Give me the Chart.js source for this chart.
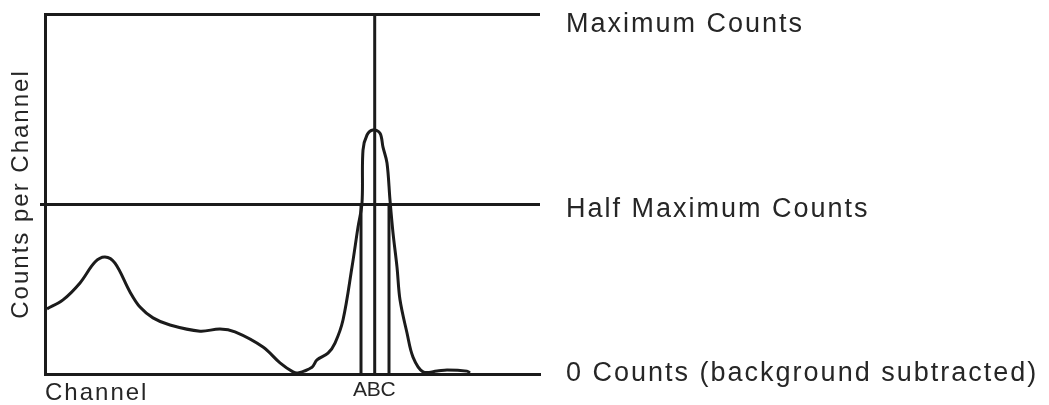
<!DOCTYPE html>
<html>
<head>
<meta charset="utf-8">
<script src="https://cdn.jsdelivr.net/npm/chart.js@4/dist/chart.umd.min.js"></script>
<style>
  html, body { margin: 0; padding: 0; background: #fff; }
  #wrap { width: 1049px; height: 405px; position: relative; }
</style>
</head>
<body>
<div id="wrap"><canvas id="fwhm-chart"></canvas></div>
<script>
// ================= DATA =================
// channel offsets and counts (counts: 0 = baseline, 100 = "maximum counts" line)
const CHANNELS = [2, 18, 35, 50, 60, 70, 85, 95, 108, 125, 155, 175, 190, 218, 235, 248, 253,
  267, 272, 283, 290, 298, 307, 313, 317, 318, 322, 328, 335, 338, 342, 345, 348, 352, 355,
  362, 368, 378, 392, 402, 422, 425];
const COUNTS = [18.1, 20.6, 25.3, 31.1, 32.5, 30.8, 22.8, 18.6, 15.6, 13.6, 11.9, 12.5, 11.7, 7.5, 3.1, 0.6, 0.3,
  1.9, 3.9, 5.8, 8.6, 15, 29.7, 40.8, 47.5, 62.2, 66.4, 67.8, 66.9, 63, 58.6, 48.3, 39.2, 29.7, 20.6,
  11.4, 4.7, 0.6, 0.8, 1.1, 0.8, 0.3];

// reference levels drawn across the plot
const LEVELS = [0, 47, 100];
const LEVEL_LABELS = ["0 Counts (background subtracted)", "Half Maximum Counts", "Maximum Counts"];

// marker lines A, B, C
const MARKER_LETTERS = ["A", "B", "C"];
const MARKER_CHANNELS = [316, 329.7, 344];
const MARKER_TOPS = [47, 100, 47];

const X_MAX = 495;
const Y_MAX = 100;
const INK = "#1b1b1b";
const TEXT = "#262626";
const FONT = "'Liberation Sans', Arial, Helvetica, sans-serif";
// how far (px) each level label sits below its line
const LABEL_DROP = [0, 5, 11];

// ================= DATASETS =================
const curve = {
  label: "Counts",
  data: CHANNELS.map((c, i) => ({ x: c, y: COUNTS[i] })),
  borderColor: INK,
  borderWidth: 3,
  pointRadius: 0,
  tension: 0.35,
  fill: false
};

const markers = MARKER_CHANNELS.map((c, i) => ({
  label: MARKER_LETTERS[i],
  data: [{ x: c, y: 0 }, { x: c, y: MARKER_TOPS[i] }],
  borderColor: INK,
  borderWidth: 3,
  pointRadius: 0,
  fill: false
}));

// canvas letter spacing (text in the picture is set wide)
const spacing = {
  id: "spacing",
  beforeDraw(chart) { chart.ctx.letterSpacing = "2px"; }
};

// no extra room for half-height end labels
function noPad(scale) {
  scale.paddingTop = 0;
  scale.paddingBottom = 0;
  scale.paddingLeft = 0;
  scale.paddingRight = 0;
}

// ================= CHART =================
new Chart(document.getElementById("fwhm-chart").getContext("2d"), {
  type: "line",
  data: { datasets: [curve, ...markers] },
  plugins: [spacing],
  options: {
    responsive: true,
    maintainAspectRatio: false,
    animation: false,
    layout: { padding: { top: 14, right: 0, bottom: 0, left: 0 } },
    plugins: {
      legend: { display: false },
      tooltip: { enabled: false }
    },
    scales: {
      x: {
        type: "linear",
        position: "bottom",
        min: 0,
        max: X_MAX,
        afterBuildTicks: (scale) => { scale.ticks = MARKER_CHANNELS.map(v => ({ value: v })); },
        afterFit: (scale) => { noPad(scale); scale.height = 405 - 374; },
        grid: { display: false },
        border: { display: true, color: INK, width: 3 },
        ticks: {
          autoSkip: false,
          maxRotation: 0,
          padding: -4,
          color: TEXT,
          font: { family: FONT, size: 21 },
          callback: (v, i) => MARKER_LETTERS[i]
        },
        title: {
          display: true,
          text: "Channel",
          align: "start",
          color: TEXT,
          font: { family: FONT, size: 24 },
          padding: { top: -30, bottom: -3 }
        }
      },
      y: {
        type: "linear",
        position: "left",
        min: 0,
        max: Y_MAX,
        afterBuildTicks: (scale) => { scale.ticks = [{ value: LEVELS[1] }]; },
        afterFit: (scale) => { noPad(scale); scale.width = 45; },
        grid: { drawOnChartArea: false, drawTicks: true, tickLength: 5, color: INK, lineWidth: 3 },
        border: { display: true, color: INK, width: 3 },
        ticks: { display: false },
        title: {
          display: true,
          text: "Counts per Channel",
          color: TEXT,
          font: { family: FONT, size: 24 },
          padding: { top: 7, bottom: 0 }
        }
      },
      y2: {
        type: "linear",
        position: "right",
        min: 0,
        max: Y_MAX,
        afterBuildTicks: (scale) => { scale.ticks = LEVELS.map(v => ({ value: v })); },
        afterFit: (scale) => { noPad(scale); scale.width = 1049 - 540; },
        grid: { drawOnChartArea: true, drawTicks: false, color: INK, lineWidth: 3 },
        border: { display: false },
        ticks: {
          padding: 26,
          color: TEXT,
          font: (ctx) => {
            const drop = LABEL_DROP[ctx.index] || 0;
            return { family: FONT, size: 27, lineHeight: drop ? (2 * drop) + "px" : 1.2 };
          },
          callback: (v, i) => LABEL_DROP[i] ? ["", LEVEL_LABELS[i]] : LEVEL_LABELS[i]
        }
      }
    }
  }
});
</script>
</body>
</html>
